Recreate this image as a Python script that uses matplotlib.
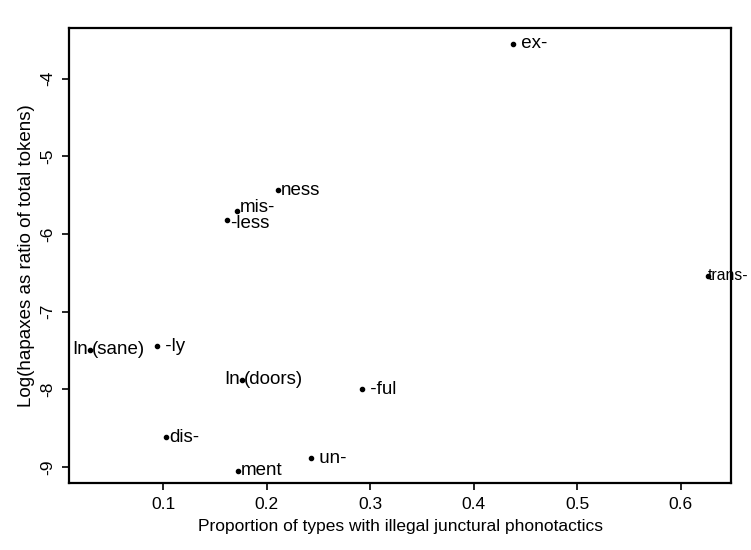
import matplotlib
matplotlib.use("Agg")
import matplotlib.pyplot as plt

plt.rcParams.update({"font.family": ["Liberation Sans", "DejaVu Sans"]})

# affixes
labels = ["ex-", "trans-", "-ness", "mis-", "-less", "In-(sane)", "-ly",
          "In-(doors)", "-ful", "dis-", "-ment", "un-"]
x_prop = [0.438, 0.626, 0.211, 0.171, 0.162, 0.029, 0.094,
          0.176, 0.292, 0.103, 0.172, 0.243]
y_log = [-3.55, -6.54, -5.44, -5.70, -5.82, -7.49, -7.45,
         -7.88, -8.00, -8.62, -9.05, -8.89]
# what is printed next to each dot (hyphens hidden under the dot in the scan)
shown = [" ex-", "trans-", "ness", "mis-", "-less", None, " -ly",
         None, " -ful", "dis-", "ment", " un-"]

x_ticks = [0.1, 0.2, 0.3, 0.4, 0.5, 0.6]
y_ticks = [-9, -8, -7, -6, -5, -4]

fig = plt.figure(figsize=(7.51, 5.50), dpi=100)
ax = fig.add_axes([0.0925, 0.122, 0.8815, 0.827])

ax.plot(x_prop, y_log, "o", color="black", markersize=3)

FS = 13.5
for lab, txt, x, y in zip(labels, shown, x_prop, y_log):
    if txt is None:
        # "In-(...)": the dot sits where the hyphen is
        left, right = lab.split("-", 1)
        ax.annotate(left, (x, y), xytext=(-1.5, 0), textcoords="offset points",
                    ha="right", va="center", fontsize=FS)
        ax.annotate(right, (x, y), xytext=(1.5, 0), textcoords="offset points",
                    ha="left", va="center", fontsize=FS)
    else:
        dy = {"mis-": 2.5, "-less": -2.5}.get(txt, 0)
        dx = 0.3 if txt == "trans-" else 2
        fs = 11.3 if txt == "trans-" else FS
        ax.annotate(txt, (x, y), xytext=(dx, dy), textcoords="offset points",
                    ha="left", va="center", fontsize=fs)

ax.set_xlim(0.0093, 0.649)
ax.set_ylim(-9.207, -3.35)
ax.set_xticks(x_ticks)
ax.set_xticklabels([str(t) for t in x_ticks])
ax.set_yticks(y_ticks)
ax.set_yticklabels([str(t) for t in y_ticks], rotation=90, va="center")
ax.tick_params(direction="out", length=5, width=1.2, labelsize=12.5, pad=5)

for s in ax.spines.values():
    s.set_linewidth(1.6)

ax.set_xlabel("Proportion of types with illegal junctural phonotactics",
              fontsize=12.5, labelpad=5)
ax.set_ylabel("Log(hapaxes as ratio of total tokens)", fontsize=13.5, labelpad=4)

fig.savefig("out.png", dpi=100)
